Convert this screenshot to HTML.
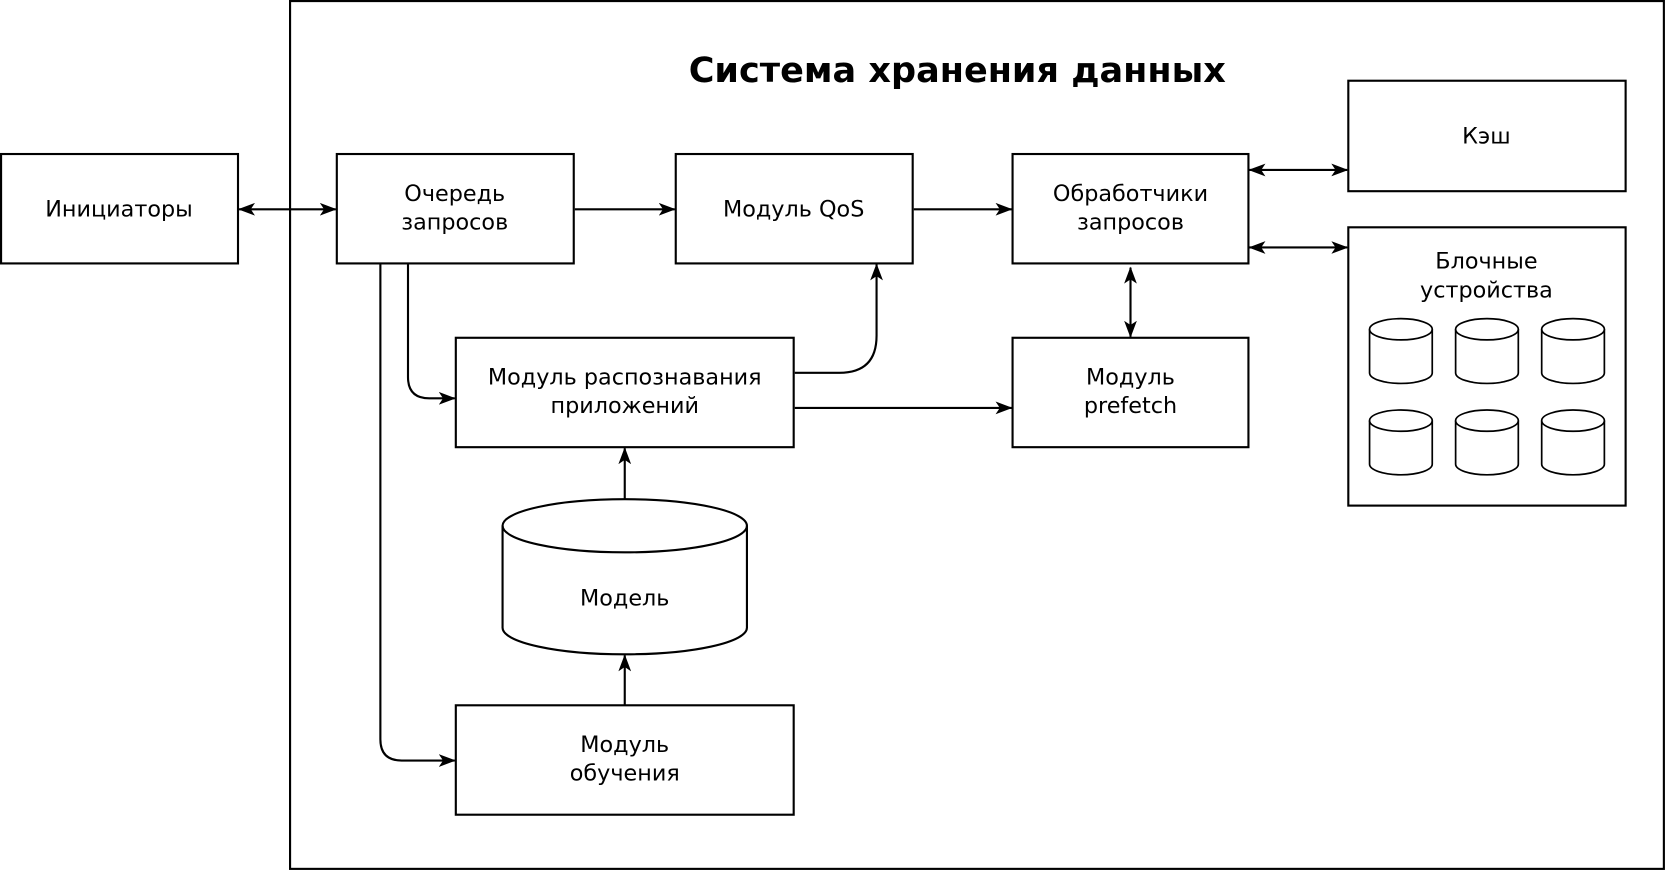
<!DOCTYPE html>
<html><head><meta charset="utf-8"><style>
html,body{margin:0;padding:0;background:#fff;}
svg{display:block;}
text{font-family:"DejaVu Sans","Liberation Sans",sans-serif;font-size:21px;fill:#000;text-anchor:middle;}
</style></head><body>
<svg width="1666" height="871" viewBox="0 0 1568 820" preserveAspectRatio="none" xmlns="http://www.w3.org/2000/svg">
<defs>
<marker id="a" viewBox="0 0 16 12" refX="15" refY="6" markerWidth="16" markerHeight="12" markerUnits="userSpaceOnUse" orient="auto-start-reverse">
<path d="M0,0 L16,6 L0,12 L4,6 Z" fill="#000"/></marker>
</defs>
<g fill="#fff" stroke="#000" stroke-width="2">
<rect x="273" y="1" width="1293" height="817"/>
<rect x="1" y="145" width="223" height="103"/>
<rect x="317" y="145" width="223" height="103"/>
<rect x="636" y="145" width="223" height="103"/>
<rect x="953" y="145" width="222" height="103"/>
<rect x="1269" y="76" width="261" height="104"/>
<rect x="1269" y="214" width="261" height="262"/>
<rect x="429" y="318" width="318" height="103"/>
<rect x="953" y="318" width="222" height="103"/>
<rect x="429" y="664" width="318" height="103"/>
<path d="M473,495 A115,25 0 0 1 703,495 L703,591 A115,25 0 0 1 473,591 Z"/>
<path d="M473,495 A115,25 0 0 0 703,495" fill="none"/>
</g>
<g fill="#fff" stroke="#000" stroke-width="1.6">
<g id="c"><path d="M1289,310 A29.5,10 0 0 1 1348,310 L1348,351 A29.5,10 0 0 1 1289,351 Z"/><path d="M1289,310 A29.5,10 0 0 0 1348,310" fill="none"/></g>
<use href="#c" x="81"/><use href="#c" x="162"/>
<use href="#c" y="86"/><use href="#c" x="81" y="86"/><use href="#c" x="162" y="86"/>
</g>
<g fill="none" stroke="#000" stroke-width="2">
<path d="M225,197 L316,197" marker-start="url(#a)" marker-end="url(#a)"/>
<path d="M541,197 L635,197" marker-end="url(#a)"/>
<path d="M860,197 L952,197" marker-end="url(#a)"/>
<path d="M1176,160 L1268,160" marker-start="url(#a)" marker-end="url(#a)"/>
<path d="M1176,233 L1268,233" marker-start="url(#a)" marker-end="url(#a)"/>
<path d="M1064,252 L1064,317" marker-start="url(#a)" marker-end="url(#a)"/>
<path d="M384,249 L384,355 Q384,375 404,375 L428,375" marker-end="url(#a)"/>
<path d="M358,249 L358,696 Q358,716 378,716 L428,716" marker-end="url(#a)"/>
<path d="M748,351 L790,351 Q825,351 825,316 L825,249" marker-end="url(#a)"/>
<path d="M748,384 L952,384" marker-end="url(#a)"/>
<path d="M588,470 L588,422" marker-end="url(#a)"/>
<path d="M588,664 L588,617" marker-end="url(#a)"/>
</g>
<text x="901" y="77" style="font-size:33px;font-weight:bold">Система хранения данных</text>
<text x="112" y="204">Инициаторы</text>
<text x="428" y="189">Очередь</text><text x="428" y="216">запросов</text>
<text x="747" y="204">Модуль QoS</text>
<text x="1064" y="189">Обработчики</text><text x="1064" y="216">запросов</text>
<text x="1399" y="135">Кэш</text>
<text x="1399" y="253">Блочные</text><text x="1399" y="280">устройства</text>
<text x="588" y="362">Модуль распознавания</text><text x="588" y="389">приложений</text>
<text x="1064" y="362">Модуль</text><text x="1064" y="389">prefetch</text>
<text x="588" y="570">Модель</text>
<text x="588" y="708">Модуль</text><text x="588" y="735">обучения</text>
</svg>
</body></html>
